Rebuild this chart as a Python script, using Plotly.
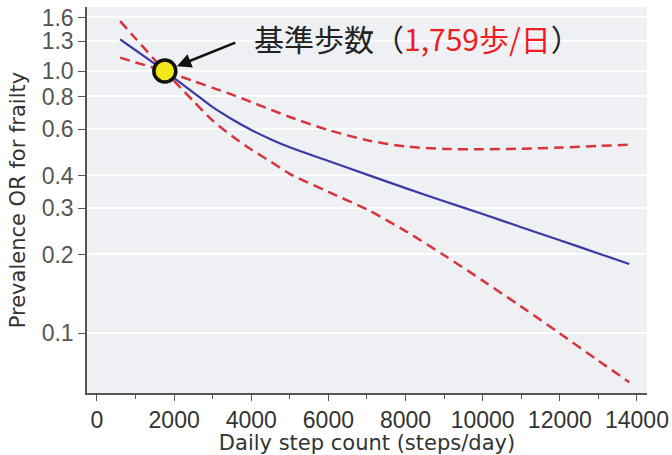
import math
import plotly.graph_objects as go

# Daily step count (steps/day)
steps = [600, 1000, 1759, 2500, 3000, 3500, 4000, 4500, 5000, 6000, 7000, 8000,
         9000, 10000, 11000, 12000, 13000, 13800]
# Prevalence OR for frailty (point estimate)
or_est = [1.32, 1.20, 1.0, 0.828, 0.728, 0.655, 0.596, 0.550, 0.512, 0.454, 0.403,
          0.358, 0.319, 0.285, 0.254, 0.2265, 0.2018, 0.184]
# upper 95% CI
or_upper = [1.125, 1.078, 1.0, 0.916, 0.863, 0.813, 0.762, 0.713, 0.668, 0.596, 0.545,
            0.516, 0.505, 0.503, 0.506, 0.511, 0.518, 0.524]
# lower 95% CI
or_lower = [1.55, 1.33, 1.0, 0.768, 0.647, 0.565, 0.502, 0.452, 0.4055, 0.346, 0.297,
            0.2455, 0.1986, 0.159, 0.1265, 0.100, 0.0787, 0.0652]

ref_step = [1759]
ref_or = [1.0]

x_ticks = [0, 2000, 4000, 6000, 8000, 10000, 12000, 14000]
x_ticktext = ["0", "2000", "4000", "6000", "8000", "10000", "12000", "14000"]
y_ticks = [0.1, 0.2, 0.3, 0.4, 0.6, 0.8, 1.0, 1.3, 1.6]
y_ticktext = ["0.1", "0.2", "0.3", "0.4", "0.6", "0.8", "1.0", "1.3", "1.6"]

FONT = "Liberation Sans, Arial, sans-serif"
TFONT = "DejaVu Sans, sans-serif"
RED = "#d8343c"
BLUE = "#3a3aa6"

fig = go.Figure()

# reference line at OR = 1.0
fig.add_shape(type="line", xref="paper", x0=0, x1=1, yref="y", y0=1.0, y1=1.0,
              line=dict(color="#9a9a9a", width=1.2, dash="dot"), layer="below")

dash_line = dict(color=RED, width=2.5, dash="10px,6px", shape="spline", smoothing=0.8)
fig.add_trace(go.Scatter(x=steps, y=or_upper, mode="lines", line=dash_line, hoverinfo="skip"))
fig.add_trace(go.Scatter(x=steps, y=or_lower, mode="lines", line=dash_line, hoverinfo="skip"))
fig.add_trace(go.Scatter(x=steps, y=or_est, mode="lines",
                         line=dict(color=BLUE, width=2.2, shape="spline", smoothing=0.8),
                         hoverinfo="skip"))
fig.add_trace(go.Scatter(x=ref_step, y=ref_or, mode="markers",
                         marker=dict(size=22, color="#f2e817", line=dict(color="#111111", width=3.5)),
                         hoverinfo="skip"))

# arrow pointing at the reference point (log axis -> y given as log10)
fig.add_annotation(x=ref_step[0], y=math.log10(ref_or[0]), xref="x", yref="y", text="",
                   showarrow=True, arrowhead=2, arrowsize=1.1, arrowwidth=2.6,
                   arrowcolor="#111111", ax=72, ay=-29, standoff=13)
fig.add_annotation(x=4030, y=math.log10(1.332), xref="x", yref="y", xanchor="left", yanchor="middle",
                   text="基準歩数（<span style='color:#ee1c24'>1,759歩/日</span>）",
                   showarrow=False,
                   font=dict(family="Noto Sans CJK JP, sans-serif", size=30, color="#222222"))

# y-axis title
fig.add_annotation(xref="paper", yref="paper", x=-0.1227, y=0.5, textangle=-90,
                   text="Prevalence OR for frailty", showarrow=False,
                   xanchor="center", yanchor="middle",
                   font=dict(family=TFONT, size=21, color="#333333"))

fig.update_layout(
    width=672, height=455,
    margin=dict(l=87, r=25, t=7, b=62, autoexpand=False),
    paper_bgcolor="white",
    plot_bgcolor="#eef0f3",
    showlegend=False,
    xaxis=dict(
        range=[-259, 14260],
        tickvals=x_ticks, ticktext=x_ticktext,
        ticks="outside", ticklen=6, tickwidth=1.2, tickcolor="#555555",
        minor=dict(dtick=1000, ticks="outside", ticklen=4, tickcolor="#555555", showgrid=False),
        showgrid=False, zeroline=False, automargin=False,
        showline=True, linecolor="#555555", linewidth=1.5,
        tickfont=dict(family=FONT, size=23, color="#333333"),
        title=dict(text="Daily step count (steps/day)", standoff=0,
                   font=dict(family=TFONT, size=21, color="#333333")),
    ),
    yaxis=dict(
        type="log",
        range=[-1.227, 0.244],
        tickvals=y_ticks, ticktext=y_ticktext,
        ticks="outside", ticklen=7, tickwidth=1.2, tickcolor="#555555",
        showgrid=True, gridcolor="white", gridwidth=2,
        zeroline=False, automargin=False,
        showline=True, linecolor="#555555", linewidth=1.5,
        tickfont=dict(family=FONT, size=23, color="#555555"),
    ),
)

fig.write_html("out.html", config={"displayModeBar": False},
               post_script="document.body.style.margin='0';document.body.style.overflow='hidden';")
